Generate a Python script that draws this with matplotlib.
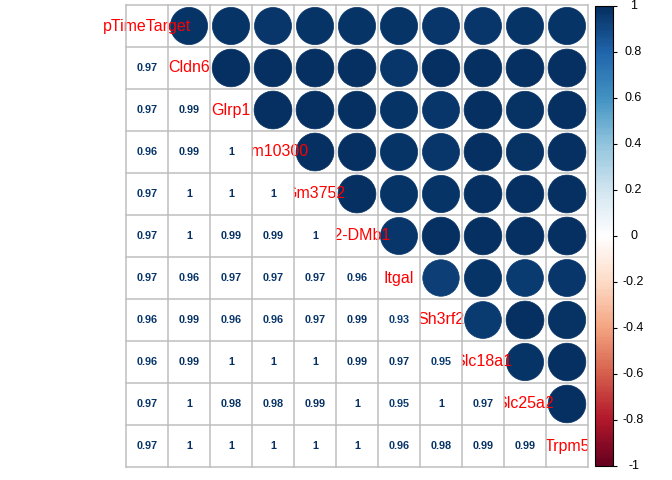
import numpy as np
import matplotlib
matplotlib.use("Agg")
import matplotlib.pyplot as plt
from matplotlib.colors import LinearSegmentedColormap, ListedColormap, Normalize
from matplotlib.patches import Rectangle, Circle
import matplotlib.colorbar as mcolorbar

plt.rcParams['font.family'] = ['Liberation Sans', 'DejaVu Sans']

labels = ["pTimeTarget", "Cldn6", "Glrp1", "Gm10300", "Gm3752", "H2-DMb1",
          "Itgal", "Sh3rf2", "Slc18a1", "Slc25a2", "Trpm5"]

# lower triangle rows (values left of the diagonal)
lower_rows = [
    [],
    [0.97],
    [0.97, 0.99],
    [0.96, 0.99, 1],
    [0.97, 1, 1, 1],
    [0.97, 1, 0.99, 0.99, 1],
    [0.97, 0.96, 0.97, 0.97, 0.97, 0.96],
    [0.96, 0.99, 0.96, 0.96, 0.97, 0.99, 0.93],
    [0.96, 0.99, 1, 1, 1, 0.99, 0.97, 0.95],
    [0.97, 1, 0.98, 0.98, 0.99, 1, 0.95, 1, 0.97],
    [0.97, 1, 1, 1, 1, 1, 0.96, 0.98, 0.99, 0.99],
]

cb_ticks = [-1, -0.8, -0.6, -0.4, -0.2, 0, 0.2, 0.4, 0.6, 0.8, 1]
cb_labels = ["-1", "-0.8", "-0.6", "-0.4", "-0.2", "0", "0.2", "0.4", "0.6", "0.8", "1"]

n = len(labels)
corr = np.eye(n)
for i, row in enumerate(lower_rows):
    for j, v in enumerate(row):
        corr[i, j] = v
        corr[j, i] = v

# corrplot COL2('RdBu', 200)
col2 = ["#67001F", "#B2182B", "#D6604D", "#F4A582", "#FDDBC7", "#FFFFFF",
        "#D1E5F0", "#92C5DE", "#4393C3", "#2166AC", "#053061"]
base = LinearSegmentedColormap.from_list("rdbu", col2)
cmap = ListedColormap(base(np.linspace(0, 1, 200)))
norm = Normalize(-1, 1)

W, H = 672, 480
fig = plt.figure(figsize=(W / 100, H / 100), dpi=100)

# grid spans 126..588 px horizontally, 5..467 px vertically; clip left at 102
left_px, right_px, top_px, bot_px = 102, 588, 5, 467
cell = (right_px - 126) / n
ax = fig.add_axes([left_px / W, (H - bot_px) / H, (right_px - left_px) / W, (bot_px - top_px) / H])
ax.set_xlim(-(126 - left_px) / cell, n)
ax.set_ylim(n, 0)
ax.axis("off")

grid_col = "#BEBEBE"

# upper triangle: circles
for i in range(n):
    for j in range(i + 1, n):
        v = corr[i, j]
        c = cmap(norm(v))
        r = 0.45 * np.sqrt(abs(v))
        ax.add_patch(Circle((j + 0.5, i + 0.5), r, facecolor=c, edgecolor=c, lw=0.5, zorder=2))

# diagonal labels
for i, lab in enumerate(labels):
    ax.text(i + 0.5, i + 0.5, lab, color="red", fontsize=11.5, ha="center", va="center",
            zorder=3, clip_on=True)

# lower triangle: numbers on white cells
for i in range(n):
    for j in range(i):
        v = corr[i, j]
        ax.add_patch(Rectangle((j, i), 1, 1, facecolor="white", edgecolor="none", zorder=4))
        txt = "1" if v == 1 else "%.2f" % v
        ax.text(j + 0.5, i + 0.5, txt, color=cmap(norm(v)), fontsize=7.8, fontweight="bold",
                ha="center", va="center", zorder=5)

# grid lines
for k in range(n + 1):
    ax.plot([k, k], [0, n], color=grid_col, lw=1.1, zorder=6, clip_on=False)
    ax.plot([0, n], [k, k], color=grid_col, lw=1.1, zorder=6, clip_on=False)

# colour legend
cax = fig.add_axes([595 / W, (H - 466) / H, 18 / W, 460 / H])
cb = mcolorbar.ColorbarBase(cax, cmap=cmap, norm=norm, orientation="vertical")
cb.set_ticks(cb_ticks)
cb.outline.set_linewidth(0.8)
cax.tick_params(axis="y", length=3, width=0.8, labelright=False)
for t, lab in zip(cb_ticks, cb_labels):
    cax.text(2.14, t, lab, transform=cax.get_yaxis_transform(), fontsize=9,
             ha="center", va="center")

fig.savefig("out.png", dpi=100)
